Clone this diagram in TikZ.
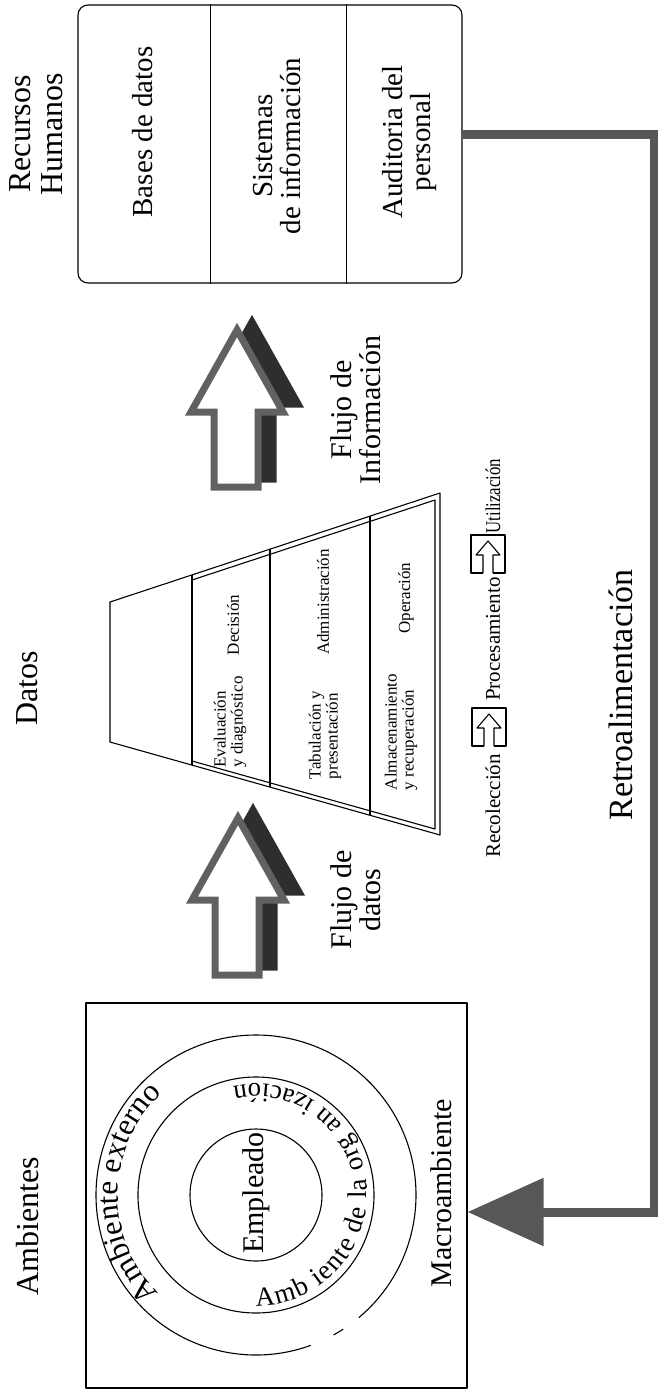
\documentclass[tikz,border=0pt]{standalone}
\usepackage{fontspec}
\setmainfont{Liberation Serif}
\usepackage{graphicx}
\usetikzlibrary{arrows.meta,decorations.text}

\newcommand{\fsz}[2]{\fontsize{#1}{#2}\selectfont}

% hollow block arrow with a dark offset shadow; #1,#2 = tip position
\newcommand{\flowarrow}[2]{%
  \begin{scope}[shift={(#1+15,#2-8)}]
    \filldraw[shadowarrow] (0,8) -- (46,90) -- (21,90) -- (21,165) -- (-23,165) -- (-23,90) -- (-46,90) -- cycle;
  \end{scope}
  \begin{scope}[shift={(#1,#2)}]
    \filldraw[mainarrow] (0,8) -- (46,90) -- (21,90) -- (21,165) -- (-23,165) -- (-23,90) -- (-46,90) -- cycle;
  \end{scope}}

\tikzset{
  boxarrow/.pic={
    \draw[thinline] (-5,19) -- (-17,19) -- (-17,-19) -- (17,-19) -- (17,19) -- (5,19);
    \draw[thinline] (-5,19) -- (-5,1) -- (-12,1) -- (0,-13) -- (12,1) -- (5,1) -- (5,19);
  }
}

\begin{document}
\begin{tikzpicture}[x=1pt,y=-1pt,
  thinline/.style={line width=1.1pt, line join=round},
  vlabel/.style={rotate=90, inner sep=0pt, align=center},
  title/.style={vlabel, font=\fsz{32}{32}},
  boxtext/.style={vlabel, font=\fsz{29}{28}},
  small/.style={vlabel, align=left, font=\fsz{17}{17}},
  flow/.style={vlabel, font=\fsz{30}{29}},
  steptext/.style={vlabel, font=\fsz{21}{21}},
  mainarrow/.style={fill=white, draw=black!62, line width=7pt, line join=miter},
  shadowarrow/.style={fill=black!82, draw=black!82, line width=7pt, line join=miter},
  feedback/.style={draw=black!66, line width=9pt, line join=miter,
                   -{Triangle[length=76pt,width=66pt]}}
]
\useasboundingbox (0,0) rectangle (658,1391);

% ---------- Recursos Humanos ----------
\node[title] (rhlabel) at (36,134) {Recursos\\Humanos};
\node[draw, thinline, rounded corners=10pt, minimum width=384pt,
      minimum height=278pt, inner sep=0pt] (rh) at (270,144) {};
\draw[thinline] ([xshift=133pt]rh.north west) -- ([xshift=133pt]rh.south west);
\draw[thinline] ([xshift=269pt]rh.north west) -- ([xshift=269pt]rh.south west);
\node[boxtext] (bases) at (143,132) {Bases de datos};
\node[boxtext] (sistemas) at (277,146) {Sistemas\\de información};
\node[boxtext] (auditoria) at (410,142) {Auditoria del\\personal};

% ---------- flow arrows ----------
\flowarrow{237}{322}
\flowarrow{238}{810}
\node[flow] (flujoinfo) at (356,410) {Flujo de\\Información};
\node[flow] (flujodatos) at (356,900) {Flujo de\\datos};

% ---------- Datos funnel ----------
\node[title] (datos) at (27,688) {Datos};
\draw[thinline] (110,602) -- (440,493) -- (440,835) -- (110,742) -- cycle;
\draw[thinline] (192,575) -- (192,765);
\draw[thinline] (192,580) -- (435,500) -- (435,829) -- (192,761);
\draw[thinline] (270,549) -- (270,787);
\draw[thinline] (370,516) -- (370,815);
\node[small] (decision) at (233,625) {Decisión};
\node[small] (evaluacion) at (230,722) {Evaluación\\y diagnóstico};
\node[small] (administracion) at (323,602) {Administración};
\node[small] (tabulacion) at (325,735) {Tabulación y\\presentación};
\node[small] (operacion) at (406,598) {Operación};
\node[small] (almacenamiento) at (401,732) {Almacenamiento\\y recuperación};

% ---------- processing steps ----------
\node[steptext] (recoleccion) at (493,806) {Recolección};
\node[steptext] (procesamiento) at (493,639) {Procesamiento};
\node[steptext] (utilizacion) at (493,496) {\scalebox{0.8}[1]{Utilización}};
\pic at (489,727) {boxarrow};
\pic at (488,554) {boxarrow};

% ---------- Ambientes ----------
\node[title] (ambientes) at (28,1226) {Ambientes};
\node[draw, thinline, minimum width=381pt, minimum height=385pt,
      inner sep=0pt] (macro) at (276.5,1195.5) {};
\node[title, font=\fsz{30}{30}] (macrolabel) at (441,1193) {Macroambiente};
\begin{scope}[shift={(256,1195)}]
  \draw[thinline] (0,0) circle[radius=66];
  \draw[thinline] (0,0) circle[radius=118];
  \draw[thinline] (50:160) arc[start angle=50, end angle=-290, radius=160];
  \draw[thinline] (57:160) arc[start angle=57, end angle=61, radius=160];
  \path[decorate, decoration={text along path, text align=center,
        text={|\fsz{31}{31}|Ambiente externo}}]
    (128:138) arc[start angle=128, end angle=234, radius=138];
  \path[decorate, decoration={text along path, text align=fit to path,
        text={|\fsz{27}{27}|Amb iente de la org an ización}}]
    (90:111) arc[start angle=90, end angle=-102, radius=111];
\end{scope}
\node[title, font=\fsz{30}{30}] (empleado) at (256,1193) {Empleado};

% ---------- feedback loop ----------
\node[vlabel, font=\fsz{34}{34}] (retro) at (621,695) {Retroalimentación};
\coordinate (fbtop) at (654,135);
\coordinate (fbbot) at (654,1212);
\draw[feedback] (rh.east |- fbtop) -- (fbtop) -- (fbbot) -- (macro.east |- fbbot);

\end{tikzpicture}
\end{document}
